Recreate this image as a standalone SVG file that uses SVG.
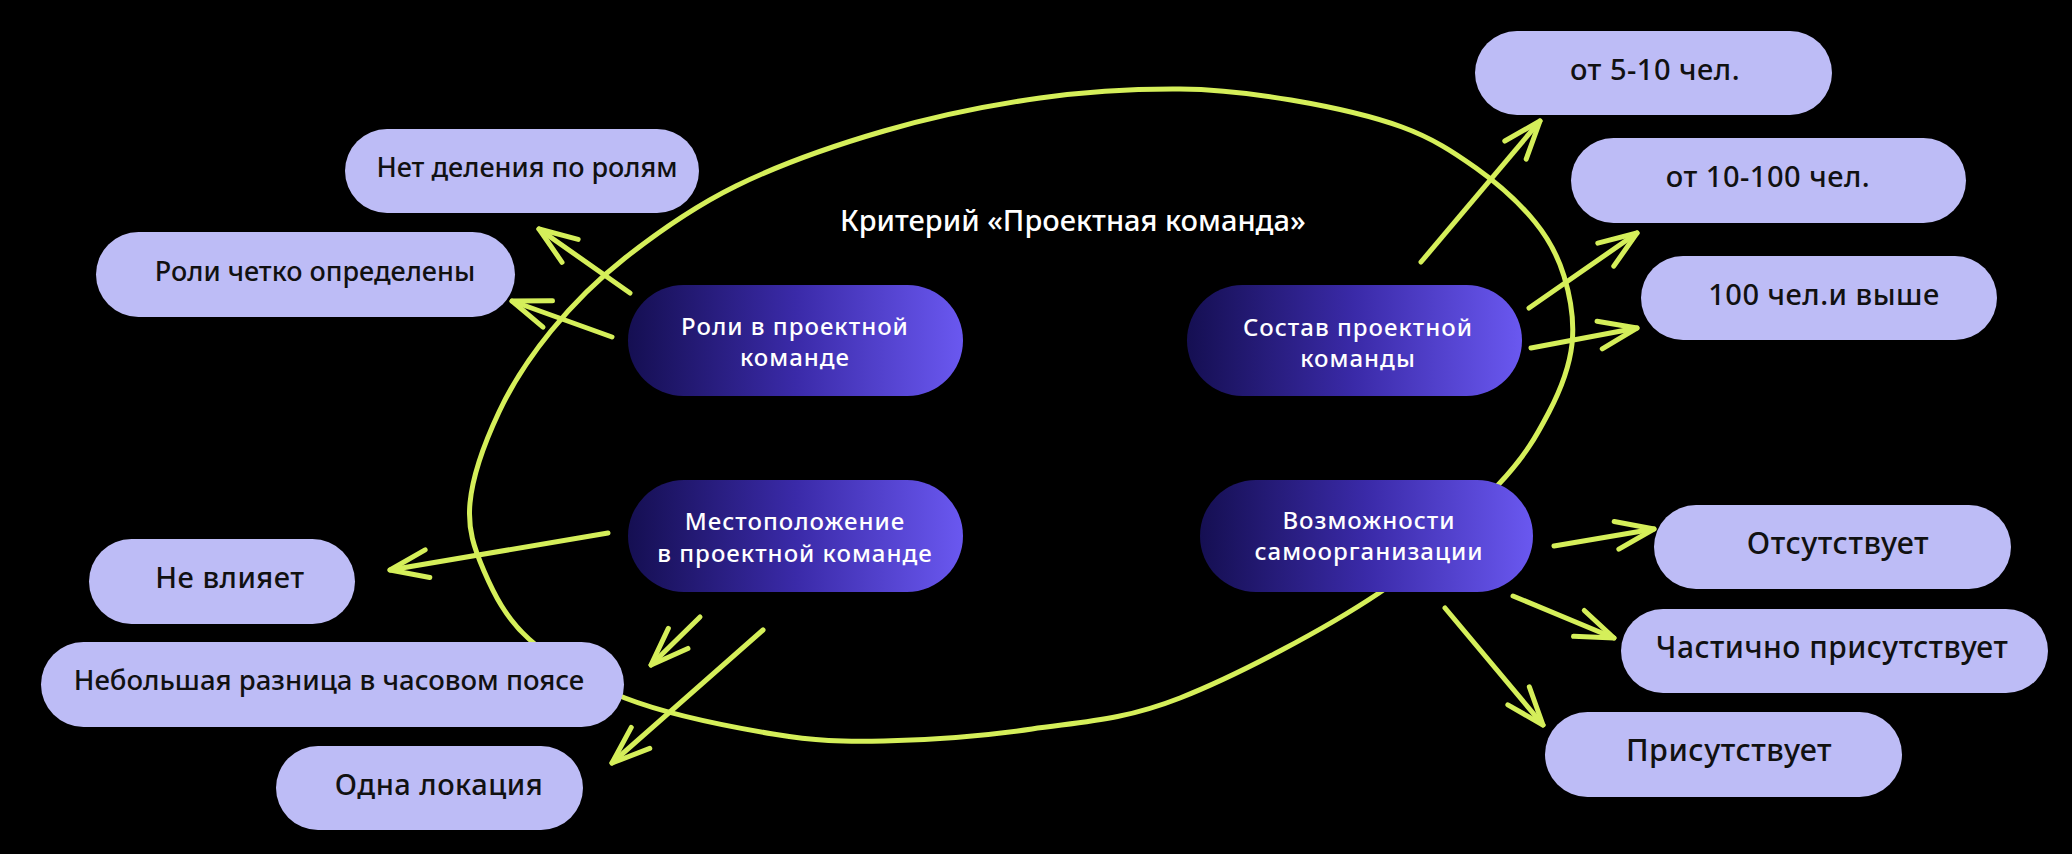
<svg xmlns="http://www.w3.org/2000/svg" width="2072" height="854" viewBox="0 0 2072 854">
<style>
.lite{fill:#bdbcf6}
.dark{fill:url(#dg)}
.lt{font-family:"Noto Sans",Inter,sans-serif;font-size:27px;fill:#111;text-anchor:middle;font-weight:500}
.lt2{font-family:"Noto Sans",Inter,sans-serif;font-size:29px;letter-spacing:0.5px;fill:#111;text-anchor:middle;font-weight:500}
.dt{font-family:"Noto Sans",Inter,sans-serif;font-size:24px;letter-spacing:1px;fill:#fff;text-anchor:middle;font-weight:500}
.title{font-family:"Noto Sans",Inter,sans-serif;font-size:29px;fill:#fff;font-weight:500}
.ln{fill:none;stroke:#d5ef5a;stroke-width:5;stroke-linecap:round;stroke-linejoin:round}
.arr{marker-end:url(#ah)}
</style>
<defs>
<linearGradient id="dg" x1="0" y1="0" x2="1" y2="0">
<stop offset="0" stop-color="#150f52"/>
<stop offset="0.5" stop-color="#3a2aa8"/>
<stop offset="1" stop-color="#6a58f0"/>
</linearGradient>
<marker id="ah" markerUnits="userSpaceOnUse" orient="auto" refX="0" refY="0" markerWidth="60" markerHeight="60" viewBox="-45 -30 60 60" overflow="visible">
<path d="M-38,-14 L0,0 L-38,14" fill="none" stroke="#d5ef5a" stroke-width="5" stroke-linecap="round" stroke-linejoin="round"/>
</marker>
</defs>
<rect width="2072" height="854" fill="#000"/>
<g id="connectors">
<path id="loop" class="ln" d="M1180,89 C1221.8,89.3 1254,93.7 1291,100 C1328,106.3 1371.2,115.7 1402,127 C1432.8,138.3 1453.8,152.2 1476,168 C1498.2,183.8 1520.3,204 1535,222 C1549.7,240 1557.8,255.7 1564,276 C1570.2,296.3 1574.5,321.3 1572,344 C1569.5,366.7 1561.3,388.5 1549,412 C1536.7,435.5 1526.3,454.8 1498,485 C1469.7,515.2 1432,557.5 1379,593 C1326,628.5 1237.8,675.3 1180,698 C1122.2,720.7 1081.3,721.8 1032,729 C982.7,736.2 927.2,740.2 884,741 C840.8,741.8 816.2,741.2 773,734 C729.8,726.8 665.7,713.8 625,698 C584.3,682.2 552.5,660.2 529,639 C505.5,617.8 493.8,593.7 484,571 C474.2,548.3 467.5,529.5 470,503 C472.5,476.5 485.5,440.7 499,412 C512.5,383.3 530,356.7 551,331 C572,305.3 594.2,282.2 625,258 C655.8,233.8 692.8,207.2 736,186 C779.2,164.8 833.3,145.7 884,131 C934.7,116.3 990.7,105 1040,98 C1089.3,91 1138.2,88.7 1180,89 Z"/>
<line class="ln arr" x1="630" y1="293" x2="539" y2="229"/>
<line class="ln arr" x1="612" y1="337" x2="512" y2="301"/>
<line class="ln arr" x1="1421" y1="262" x2="1540" y2="121"/>
<line class="ln arr" x1="1529" y1="308" x2="1637" y2="233"/>
<line class="ln arr" x1="1531" y1="348" x2="1637" y2="328"/>
<line class="ln arr" x1="608" y1="533" x2="390" y2="570"/>
<line class="ln arr" x1="700" y1="617" x2="651" y2="665"/>
<line class="ln arr" x1="763" y1="630" x2="612" y2="763"/>
<line class="ln arr" x1="1554" y1="546" x2="1654" y2="529"/>
<line class="ln arr" x1="1513" y1="596" x2="1614" y2="638"/>
<line class="ln arr" x1="1445" y1="608" x2="1543" y2="725"/>
</g>
<g id="title"><text class="title" x="840" y="231">Критерий «Проектная команда»</text></g>
<g id="n-roles"><rect class="dark" x="628" y="285" width="335" height="111" rx="55.5"/><text class="dt" x="795" y="335">Роли в проектной</text><text class="dt" x="795" y="366">команде</text></g>
<g id="n-sostav"><rect class="dark" x="1187" y="285" width="335" height="111" rx="55.5"/><text class="dt" x="1358" y="336">Состав проектной</text><text class="dt" x="1358" y="367">команды</text></g>
<g id="n-mesto"><rect class="dark" x="628" y="480" width="335" height="112" rx="56"/><text class="dt" x="795" y="530">Местоположение</text><text class="dt" x="795" y="562">в проектной команде</text></g>
<g id="n-vozm"><rect class="dark" x="1200" y="480" width="333" height="112" rx="56"/><text class="dt" x="1369" y="529">Возможности</text><text class="dt" x="1369" y="560">самоорганизации</text></g>
<g id="n-net"><rect class="lite" x="345" y="129" width="354" height="84" rx="42"/><text class="lt" x="527" y="177">Нет деления по ролям</text></g>
<g id="n-chetko"><rect class="lite" x="96" y="232" width="419" height="85" rx="42.5"/><text class="lt" x="315" y="281">Роли четко определены</text></g>
<g id="n-5"><rect class="lite" x="1475" y="31" width="357" height="84" rx="42"/><text class="lt2" x="1655" y="80">от 5-10 чел.</text></g>
<g id="n-10"><rect class="lite" x="1571" y="138" width="395" height="85" rx="42.5"/><text class="lt2" x="1768" y="187">от 10-100 чел.</text></g>
<g id="n-100"><rect class="lite" x="1641" y="256" width="356" height="84" rx="42"/><text class="lt2" x="1824" y="305">100 чел.и выше</text></g>
<g id="n-nevl"><rect class="lite" x="89" y="539" width="266" height="85" rx="42.5"/><text class="lt2" x="230" y="588">Не влияет</text></g>
<g id="n-razn"><rect class="lite" x="41" y="642" width="583" height="85" rx="42.5"/><text class="lt" x="329" y="690" style="font-size:27.5px">Небольшая разница в часовом поясе</text></g>
<g id="n-odna"><rect class="lite" x="276" y="746" width="307" height="84" rx="42"/><text class="lt2" x="439" y="795">Одна локация</text></g>
<g id="n-ots"><rect class="lite" x="1654" y="505" width="357" height="84" rx="42"/><text class="lt2" x="1838" y="554" style="font-size:30.5px">Отсутствует</text></g>
<g id="n-chast"><rect class="lite" x="1621" y="609" width="427" height="84" rx="42"/><text class="lt2" x="1832" y="658" style="font-size:30px">Частично присутствует</text></g>
<g id="n-pris"><rect class="lite" x="1545" y="712" width="357" height="85" rx="42.5"/><text class="lt2" x="1729" y="761" style="font-size:30.5px">Присутствует</text></g>
</svg>
